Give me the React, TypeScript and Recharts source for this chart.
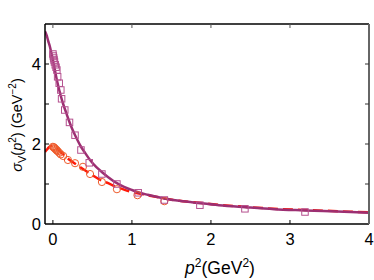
import React from "react";
import { ComposedChart, Line, Scatter, XAxis, YAxis, Label } from "recharts";

const purpleCurveX = [-0.1, -0.08, -0.06, -0.04, -0.02, 0, 0.02, 0.05, 0.08, 0.1, 0.13, 0.17, 0.2, 0.25, 0.29, 0.35, 0.4, 0.47, 0.55, 0.62, 0.7, 0.81, 0.9, 1.0, 1.1, 1.2, 1.41, 1.6, 1.86, 2.1, 2.43, 2.8, 3.19, 3.6, 4.0];
const purpleCurveY = [4.82, 4.72, 4.58, 4.45, 4.28, 4.1, 3.9, 3.6, 3.35, 3.2, 3.0, 2.77, 2.6, 2.35, 2.18, 1.95, 1.8, 1.6, 1.42, 1.3, 1.17, 1.02, 0.93, 0.85, 0.78, 0.73, 0.64, 0.58, 0.52, 0.47, 0.42, 0.37, 0.34, 0.31, 0.28];

const redCurveX = [-0.1, -0.08, -0.05, -0.02, 0, 0.03, 0.06, 0.1, 0.15, 0.2, 0.3, 0.4, 0.5, 0.6, 0.7, 0.8, 0.9, 1.0, 1.2, 1.41, 1.6, 1.86, 2.1, 2.43, 2.8, 3.19, 3.6, 4.0];
const redCurveY = [1.8, 1.85, 1.92, 1.95, 1.95, 1.92, 1.87, 1.8, 1.7, 1.62, 1.48, 1.35, 1.22, 1.1, 1.02, 0.93, 0.86, 0.8, 0.72, 0.64, 0.58, 0.53, 0.48, 0.43, 0.38, 0.35, 0.32, 0.29];

const squareX = [0, 0.005, 0.01, 0.015, 0.02, 0.03, 0.04, 0.05, 0.06, 0.08, 0.1, 0.11, 0.15, 0.21, 0.28, 0.355, 0.46, 0.62, 0.81, 1.08, 1.41, 1.86, 2.43, 3.19];
const squareY = [4.25, 4.2, 4.15, 4.1, 4.05, 3.98, 3.92, 3.85, 3.68, 3.52, 3.35, 3.13, 2.85, 2.54, 2.22, 1.85, 1.53, 1.25, 1.0, 0.78, 0.6, 0.47, 0.38, 0.3];

const circleX = [0, 0.01, 0.02, 0.03, 0.04, 0.05, 0.06, 0.08, 0.1, 0.13, 0.19, 0.28, 0.38, 0.47, 0.62, 0.81, 1.07, 1.41];
const circleY = [1.93, 1.92, 1.9, 1.88, 1.86, 1.84, 1.82, 1.78, 1.74, 1.7, 1.6, 1.52, 1.43, 1.25, 1.05, 0.87, 0.72, 0.57];

const xTicks = [0, 1, 2, 3, 4];
const yTicks = [0, 1, 2, 3, 4];
const yLabels: Record<number, string> = { 0: "0", 2: "2", 4: "4" };

const zip = (xs: number[], ys: number[]) => xs.map((x, i) => ({ x, y: ys[i] }));
const purpleData = zip(purpleCurveX, purpleCurveY);
const redData = zip(redCurveX, redCurveY);
const squareData = zip(squareX, squareY);
const circleData = zip(circleX, circleY);

const PURPLE = "#9c2f72";
const SQUARE = "#b5508f";
const RED = "#ff1a0a";
const CIRCLE = "#ee5a2a";
const FONT = "'Liberation Sans', Arial, sans-serif";
const TL = 4;

const BottomTick = (p: any) => {
  const ay = p.y - 3;
  const v = p.payload.value;
  return (
    <g>
      {v < 4 && <line x1={p.x} x2={p.x} y1={ay} y2={ay - TL} stroke="#000" strokeWidth={1} />}
      <text x={p.x} y={ay + 21} textAnchor="middle" fontSize={16.5} fontFamily={FONT} fill="#000">{v}</text>
    </g>
  );
};
const TopTick = (p: any) => {
  const ay = p.y + 3;
  const v = p.payload.value;
  if (v >= 4) return <g />;
  return <line x1={p.x} x2={p.x} y1={ay} y2={ay + TL} stroke="#555" strokeWidth={1} />;
};
const LeftTick = (p: any) => {
  const ax = p.x + 3;
  const v = p.payload.value;
  return (
    <g>
      {v > 0 && <line x1={ax} x2={ax + TL} y1={p.y} y2={p.y} stroke="#000" strokeWidth={1} />}
      {yLabels[v] !== undefined && (
        <text x={ax - 4} y={p.y + 6} textAnchor="end" fontSize={16.5} fontFamily={FONT} fill="#000">{yLabels[v]}</text>
      )}
    </g>
  );
};
const RightTick = (p: any) => {
  const ax = p.x - 3;
  const v = p.payload.value;
  if (v <= 0) return <g />;
  return <line x1={ax} x2={ax - TL} y1={p.y} y2={p.y} stroke="#333" strokeWidth={1} />;
};

const Square = (p: any) => (
  <rect x={p.cx - 3.25} y={p.cy - 3.25} width={6.5} height={6.5} fill="none" stroke={SQUARE} strokeWidth={1} />
);
const Circle = (p: any) => (
  <circle cx={p.cx} cy={p.cy} r={3.6} fill="none" stroke={CIRCLE} strokeWidth={1} />
);

const YLabelContent = (p: any) => {
  const vb = p.viewBox || { y: 24, height: 200 };
  const cx = 21.5;
  const cy = vb.y + vb.height / 2 + 1;
  return (
    <text transform={`translate(${cx},${cy}) rotate(-90)`} textAnchor="middle" fontSize={14.5} fontFamily={FONT} fill="#000">
      <tspan fontStyle="italic">σ</tspan>
      <tspan fontSize={11} dy={4}>V</tspan>
      <tspan dy={-4}>(</tspan>
      <tspan fontStyle="italic">p</tspan>
      <tspan fontSize={10} dy={-6}>2</tspan>
      <tspan dy={6}>) (GeV</tspan>
      <tspan fontSize={10} dy={-6}>−2</tspan>
      <tspan dy={6}>)</tspan>
    </text>
  );
};
const XLabelContent = () => {
  return (
    <text x={220} y={274} textAnchor="middle" fontSize={17.5} fontFamily={FONT} fill="#000">
      <tspan fontStyle="italic">p</tspan>
      <tspan fontSize={12} dy={-7.5}>2</tspan>
      <tspan dy={7.5}>(GeV</tspan>
      <tspan fontSize={12} dy={-7.5}>2</tspan>
      <tspan dy={7.5}>)</tspan>
    </text>
  );
};

export default function App() {
  return (
    <div style={{ position: "absolute", left: 0, top: 0, background: "#fff" }}>
      <ComposedChart width={374} height={280} margin={{ top: 23, right: 4, bottom: 55, left: 44 }}>
        <XAxis
          xAxisId="b"
          type="number"
          dataKey="x"
          domain={[-0.1, 4]}
          allowDataOverflow
          ticks={xTicks}
          interval={0}
          height={1}
          tickSize={0}
          tickMargin={3}
          tickLine={false}
          tick={BottomTick}
          axisLine={{ stroke: "#000", strokeWidth: 1.5 }}
        >
          <Label content={XLabelContent} />
        </XAxis>
        <XAxis
          xAxisId="t"
          orientation="top"
          type="number"
          dataKey="x"
          domain={[-0.1, 4]}
          allowDataOverflow
          ticks={xTicks}
          interval={0}
          height={1}
          tickSize={0}
          tickMargin={3}
          tickLine={false}
          tick={TopTick}
          axisLine={{ stroke: "#000", strokeWidth: 1.5 }}
        />
        <YAxis
          yAxisId="l"
          type="number"
          dataKey="y"
          domain={[0, 5]}
          allowDataOverflow
          ticks={yTicks}
          interval={0}
          width={1}
          tickSize={0}
          tickMargin={3}
          tickLine={false}
          tick={LeftTick}
          axisLine={{ stroke: "#000", strokeWidth: 1.5 }}
        >
          <Label content={YLabelContent} />
        </YAxis>
        <YAxis
          yAxisId="r"
          orientation="right"
          type="number"
          dataKey="y"
          domain={[0, 5]}
          allowDataOverflow
          ticks={yTicks}
          interval={0}
          width={1}
          tickSize={0}
          tickMargin={3}
          tickLine={false}
          tick={RightTick}
          axisLine={{ stroke: "#666", strokeWidth: 2 }}
        />
        <Line
          xAxisId="b"
          yAxisId="l"
          data={redData}
          dataKey="y"
          type="monotone"
          stroke={RED}
          strokeWidth={2.5}
          strokeDasharray="10 5"
          dot={false}
          isAnimationActive={false}
        />
        <Line
          xAxisId="b"
          yAxisId="l"
          data={purpleData}
          dataKey="y"
          type="monotone"
          stroke={PURPLE}
          strokeWidth={2.5}
          dot={false}
          isAnimationActive={false}
        />
        <Scatter xAxisId="b" yAxisId="l" data={circleData} dataKey="y" shape={Circle} isAnimationActive={false} />
        <Scatter xAxisId="b" yAxisId="l" data={squareData} dataKey="y" shape={Square} isAnimationActive={false} />
      </ComposedChart>
    </div>
  );
}
